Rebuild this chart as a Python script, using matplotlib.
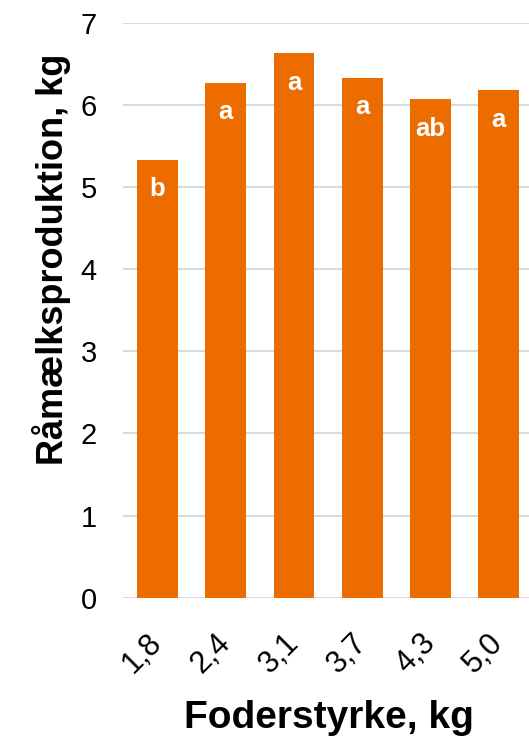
import matplotlib
matplotlib.use("Agg")
import matplotlib.pyplot as plt

categories = ["1,8", "2,4", "3,1", "3,7", "4,3", "5,0"]
values = [5.33, 6.27, 6.63, 6.33, 6.07, 6.18]
letters = ["b", "a", "a", "a", "ab", "a"]
y_ticks = [0, 1, 2, 3, 4, 5, 6, 7]

plt.rcParams['font.family'] = ['Liberation Sans', 'DejaVu Sans']

W, H = 529, 743
fig = plt.figure(figsize=(W / 100, H / 100), dpi=100)
left, right = 123.3, 533.0
top, bottom = 22.7, 597.8
ax = fig.add_axes([left / W, 1 - bottom / H, (right - left) / W, (bottom - top) / H])

orange = '#ED6C00'
x = list(range(len(categories)))
ax.bar(x, values, width=0.6, color=orange, zorder=3)

for xi, v, lab in zip(x, values, letters):
    ax.annotate(lab, (xi, v), xytext=(0, -36.5 * 0.72), textcoords='offset points',
                ha='center', va='baseline', color='white', fontsize=18.5,
                fontweight='bold', zorder=4)

ax.set_xlim(-0.5, len(categories) - 0.5)
ax.set_ylim(0, 7)
ax.set_yticks(y_ticks)
ax.set_yticklabels([str(t) for t in y_ticks], fontsize=21)
ax.set_xticks(x)
ax.set_xticklabels(categories, fontsize=22, rotation=45, ha='right', va='center',
                   rotation_mode='anchor')
ax.tick_params(axis='y', length=0, pad=19)
ax.tick_params(axis='x', length=0, pad=29)

ax.grid(axis='y', color='#D9D9D9', linewidth=1.4, zorder=0)
for s in ax.spines.values():
    s.set_visible(False)

fig.text(51.5 / W, 1 - 259 / H, "Råmælksproduktion, kg", rotation=90, ha='center',
         va='center', fontsize=26, fontweight='bold')
fig.text(328.5 / W, 1 - 728.5 / H, "Foderstyrke, kg", ha='center', va='baseline',
         fontsize=28, fontweight='bold')

fig.savefig("out.png", dpi=100)
